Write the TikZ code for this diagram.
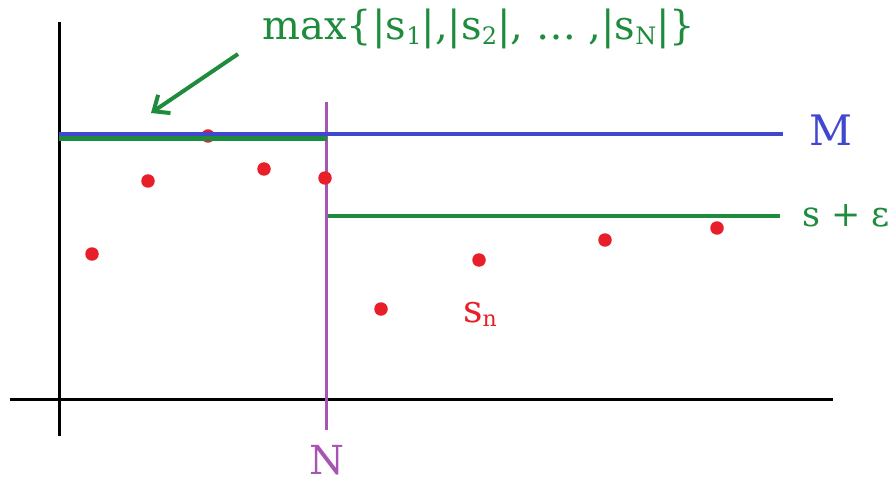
\documentclass[tikz,border=0pt]{standalone}
\usepackage{fontspec}
\setmainfont{DejaVu Serif}
\usetikzlibrary{arrows.meta}
\definecolor{mblue}{RGB}{64,72,208}
\definecolor{mgreen}{RGB}{30,140,60}
\definecolor{mred}{RGB}{232,30,40}
\definecolor{mpurple}{RGB}{168,84,180}
\newcommand\lowsub[2]{\raisebox{-0.12em}{\fontsize{#1}{#1}\selectfont #2}}
\begin{document}
\begin{tikzpicture}[x=1pt,y=-1pt,
  dot/.style={circle,fill=mred,inner sep=0pt,minimum size=13.5pt},
  axis/.style={line width=3pt,black},
  lbl/.style={inner sep=0pt,anchor=base}]
\useasboundingbox[fill=white] (0,0) rectangle (895,484);
% axes
\coordinate (yb) at (59,436); \coordinate (yt) at (59,22);
\coordinate (xl) at (10,399); \coordinate (xr) at (833,399);
\draw[axis] (yb) -- (yt);
\draw[axis] (xl) -- (xr);
% N line
\coordinate (nt) at (326,102); \coordinate (nb) at (326,430);
\draw[mpurple,line width=3pt] (nt) -- (nb);
% dots
\node[dot] (d1) at (92,254) {};
\node[dot] (d2) at (148,181) {};
\node[dot] (d3) at (208,136) {};
\node[dot] (d4) at (264,169) {};
\node[dot] (d5) at (325,178) {};
\node[dot] (d6) at (381,309) {};
\node[dot] (d7) at (479,260) {};
\node[dot] (d8) at (605,240) {};
\node[dot] (d9) at (717,228) {};
% M line
\coordinate (ml) at (59,134); \coordinate (mr) at (783,134);
\draw[mblue,line width=4pt] (ml) -- (mr);
% max line
\coordinate (gl) at (59,139); \coordinate (gr) at (327,139);
\draw[mgreen,line width=5pt] (gl) -- (gr);
% s+eps line
\coordinate (el) at (328,216); \coordinate (er) at (780,216);
\draw[mgreen,line width=4pt] (el) -- (er);
% labels
\node[lbl,text=mblue,font=\fontsize{42}{46}\selectfont] (M) at (831,146) {M};
\node[lbl,text=mgreen,font=\fontsize{35}{38}\selectfont] (se) at (846,226) {s + ε};
\node[lbl,text=mpurple,font=\fontsize{40}{44}\selectfont] (N) at (327,474) {N};
\node[lbl,text=mred,font=\fontsize{38}{40}\selectfont] (sn) at (480,322) {s\lowsub{22}{n}};
\node[lbl,text=mgreen,font=\fontsize{40}{44}\selectfont] (max) at (479,40)
  {max\{|s\lowsub{24}{1}|,|s\lowsub{24}{2}|, … ,|s\lowsub{24}{N}|\}};
% arrow
\coordinate (at) at (238,54); \coordinate (ah) at (151,113);
\draw[mgreen,line width=4pt,-{Straight Barb[length=13pt,width=22pt]}] (at) -- (ah);
\end{tikzpicture}
\end{document}
